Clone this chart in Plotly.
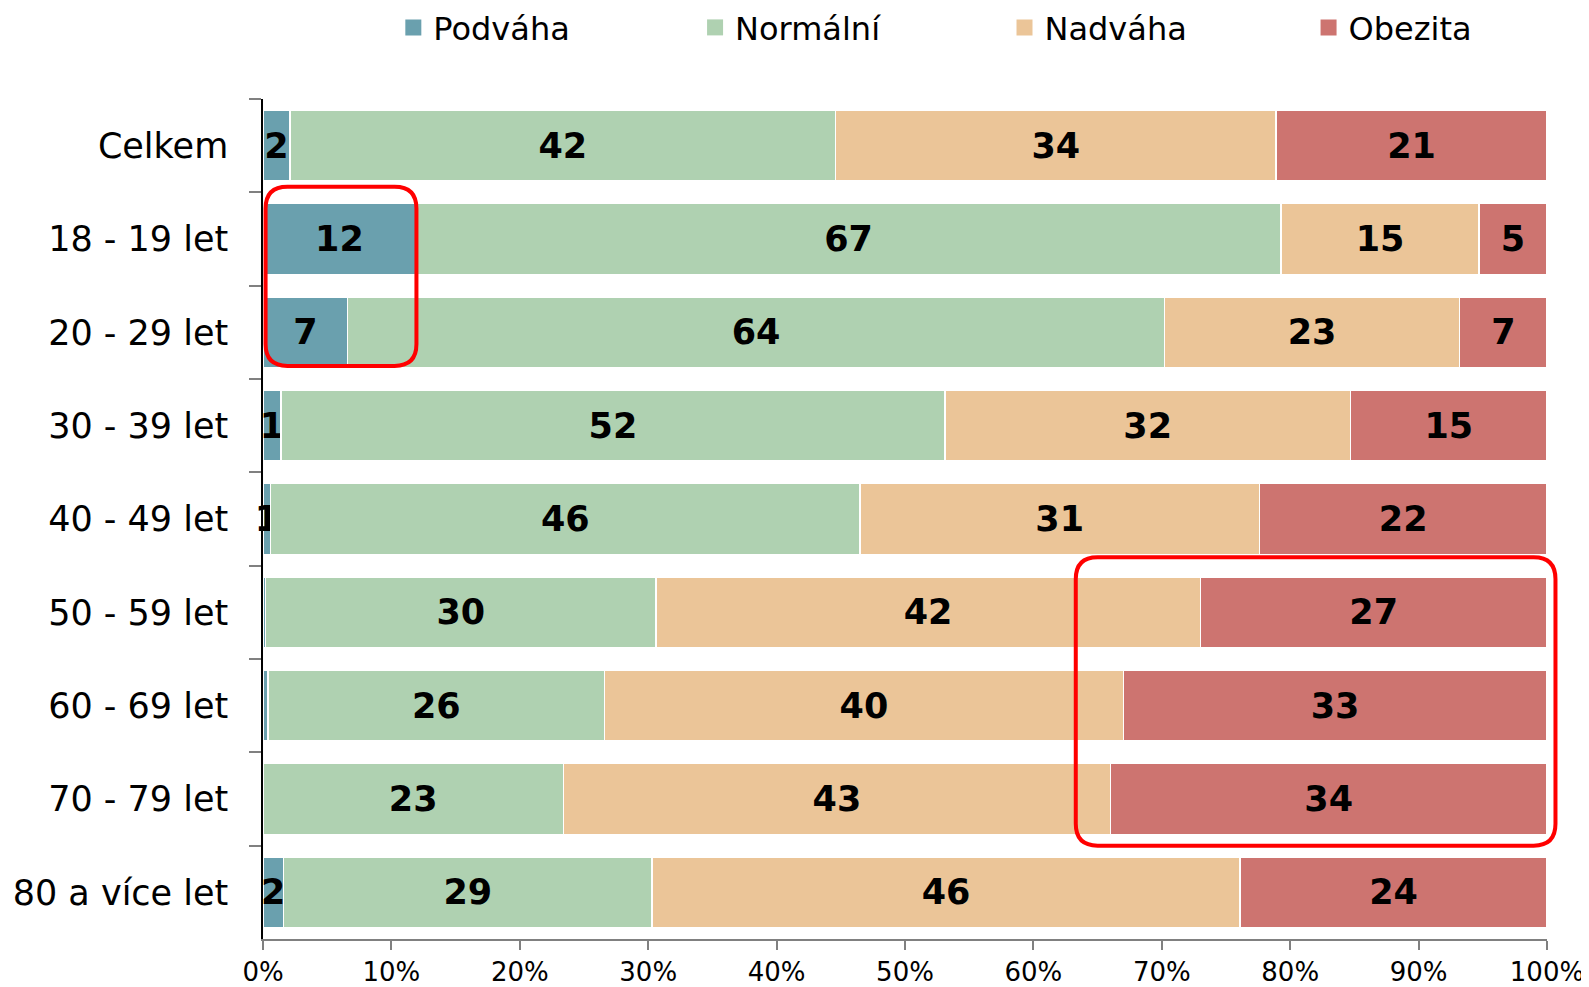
import plotly.graph_objects as go

categories = ["Celkem", "18 - 19 let", "20 - 29 let", "30 - 39 let", "40 - 49 let",
              "50 - 59 let", "60 - 69 let", "70 - 79 let", "80 a více let"]
podvaha  = [2.1, 11.9, 6.6, 1.4, 0.6, 0.2, 0.4, 0.0, 1.6]
normalni = [42.5, 67.4, 63.6, 51.7, 45.9, 30.4, 26.2, 23.4, 28.7]
nadvaha  = [34.3, 15.4, 23.0, 31.6, 31.1, 42.4, 40.4, 42.6, 45.8]
obezita  = [21.1, 5.3, 6.8, 15.3, 22.4, 27.0, 33.0, 34.0, 23.9]
x_ticks = [0, 10, 20, 30, 40, 50, 60, 70, 80, 90, 100]
x_ticklabels = [f"{t}%" for t in x_ticks]

series_names = ["Podváha", "Normální", "Nadváha", "Obezita"]
series_values = [podvaha, normalni, nadvaha, obezita]
series_colors = ["#6AA0AE", "#AFD1B1", "#EBC598", "#CD7470"]
legend_ids = ["legend", "legend2", "legend3", "legend4"]
legend_x = [0.1015, 0.3365, 0.5775, 0.8143]

FONT = "DejaVu Sans"
fig = go.Figure()
for name, vals, color, lid in zip(series_names, series_values, series_colors, legend_ids):
    txt = [str(int(round(v))) if round(v) >= 1 else "" for v in vals]
    fig.add_trace(go.Bar(
        y=categories, x=vals, name=name, orientation="h", showlegend=False,
        marker=dict(color=color, line=dict(color="white", width=1.5)),
        text=txt, textposition="inside", insidetextanchor="middle",
        textfont=dict(family=FONT, size=35, color="black", weight="bold"),
        cliponaxis=False, hoverinfo="skip",
    ))
    # legend entry with a larger square symbol
    fig.add_trace(go.Scatter(
        x=[None], y=[None], mode="markers", name=name, legend=lid, showlegend=True,
        marker=dict(symbol="square", size=16, color=color), hoverinfo="skip",
    ))

# highlight boxes (x in %, y in category-index units)
n = len(categories)
def idx_to_paper(i):
    return 1 - (i + 0.5) / n

boxes = [(0.2, 11.95, 0.44, 2.36), (63.3, 100.66, 4.41, 7.50)]
rx, ry = 0.017, 0.026
for x0, x1, i0, i1 in boxes:
    x0, x1 = x0 / 100, x1 / 100
    yt, yb = idx_to_paper(i0), idx_to_paper(i1)
    path = (f"M {x0+rx},{yt} L {x1-rx},{yt} Q {x1},{yt} {x1},{yt-ry} "
            f"L {x1},{yb+ry} Q {x1},{yb} {x1-rx},{yb} L {x0+rx},{yb} "
            f"Q {x0},{yb} {x0},{yb+ry} L {x0},{yt-ry} Q {x0},{yt} {x0+rx},{yt} Z")
    fig.add_shape(type="path", path=path, xref="paper", yref="paper",
                  line=dict(color="#FF0000", width=4), fillcolor="rgba(0,0,0,0)", layer="above")

layout_legends = {}
for lid, lx in zip(legend_ids, legend_x):
    layout_legends[lid] = dict(orientation="h", x=lx, xanchor="left", y=1.085, yanchor="middle",
                               font=dict(family=FONT, size=32, color="black"), itemclick=False,
                               bgcolor="rgba(0,0,0,0)")

fig.update_layout(
    width=1581, height=979,
    barmode="stack", bargap=0.24,
    plot_bgcolor="white", paper_bgcolor="white",
    margin=dict(l=255, r=42, t=91, b=48, autoexpand=False),
    font=dict(family=FONT, color="black"),
    uniformtext=dict(minsize=35, mode="show"),
    xaxis=dict(range=[0, 100.001], tickvals=x_ticks, ticktext=x_ticklabels, automargin=False,
               showgrid=False, zeroline=False, showline=True, linecolor="#808080", linewidth=1.5,
               ticks="outside", ticklen=9, tickcolor="#808080", tickwidth=1.5, ticklabelstandoff=0,
               tickfont=dict(family=FONT, size=26, color="black"), fixedrange=True),
    yaxis=dict(categoryorder="array", categoryarray=categories, autorange="reversed", automargin=False,
               showgrid=False, zeroline=False, showline=True, linecolor="black", linewidth=1.5,
               ticks="outside", ticklen=12, tickcolor="#808080", tickwidth=1.5,
               tickson="boundaries", ticklabelstandoff=26,
               tickfont=dict(family=FONT, size=35, color="black"), fixedrange=True),
    **layout_legends,
)

fig.write_html("out.html")
